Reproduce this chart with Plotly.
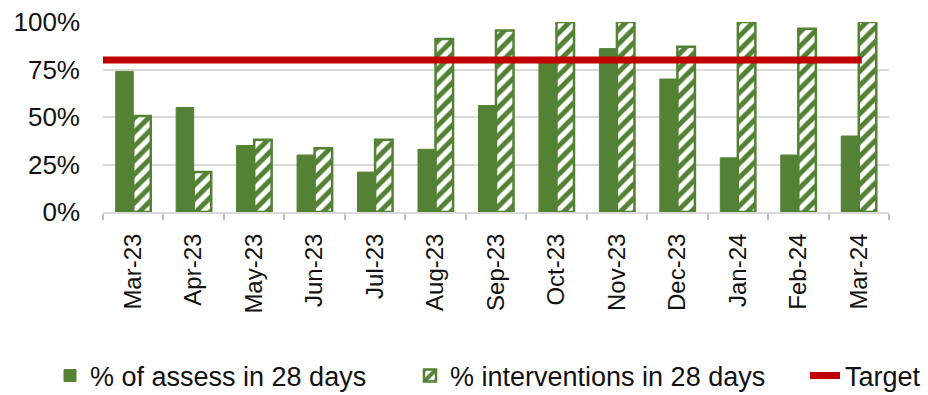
import plotly.graph_objects as go

months = ["Mar-23", "Apr-23", "May-23", "Jun-23", "Jul-23", "Aug-23", "Sep-23",
          "Oct-23", "Nov-23", "Dec-23", "Jan-24", "Feb-24", "Mar-24"]
assess_28 = [0.74, 0.55, 0.35, 0.30, 0.21, 0.33, 0.56, 0.80, 0.86, 0.70, 0.285, 0.30, 0.40]
interv_28 = [0.505, 0.21, 0.38, 0.335, 0.38, 0.91, 0.955, 1.00, 1.00, 0.87, 1.00, 0.965, 1.00]
target_x = [-0.5, 12.05]
target_y = [0.80, 0.80]

GREEN = "#548235"
RED = "#C00000"
FONT = "Liberation Sans, Arial, sans-serif"

fig = go.Figure()
fig.add_trace(go.Bar(
    x=months, y=assess_28, name="% of assess in 28 days", legend="legend",
    marker=dict(color=GREEN, line=dict(color=GREEN, width=1)),
))
fig.add_trace(go.Bar(
    x=months, y=interv_28, name="% interventions in 28 days", legend="legend2",
    marker=dict(color="white", line=dict(color=GREEN, width=2.5),
                pattern=dict(shape="/", fgcolor=GREEN, bgcolor="white",
                             fgopacity=1, size=10, solidity=0.5,
                             fillmode="replace")),
))
fig.add_trace(go.Scatter(
    x=target_x, y=target_y, name="Target", mode="lines", legend="legend3",
    line=dict(color=RED, width=7), xaxis="x2",
))

def leg(px):
    return dict(orientation="h", xref="container", x=px / 928, xanchor="left",
                yref="container", y=(395 - 376) / 395, yanchor="middle",
                font=dict(size=27, color="#111"), bgcolor="rgba(0,0,0,0)")

fig.update_layout(
    width=928, height=395,
    margin=dict(l=103, r=39, t=22, b=183, autoexpand=False),
    paper_bgcolor="white", plot_bgcolor="white",
    barmode="group", bargap=0.42, bargroupgap=0,
    font=dict(family=FONT, size=26, color="#111"),
    showlegend=True,
    legend=leg(50), legend2=leg(410), legend3=leg(805),
    xaxis=dict(type="category", tickangle=-90, tickfont=dict(size=24),
               showgrid=False, showline=True, linecolor="#d9d9d9", linewidth=2,
               ticks="outside", tickson="boundaries", ticklen=6,
               tickcolor="#bfbfbf", tickwidth=1.5, ticklabelstandoff=10,
               range=[-0.5, 12.5]),
    xaxis2=dict(overlaying="x", range=[-0.5, 12.5], visible=False),
    yaxis=dict(range=[0, 1.0], tickvals=[0, 0.25, 0.5, 0.75, 1.0],
               tickformat=".0%", tickfont=dict(size=26),
               showgrid=True, gridcolor="#d9d9d9", gridwidth=2,
               zeroline=False, showline=False, ticklabelstandoff=22),
)

fig.write_html("out.html")
